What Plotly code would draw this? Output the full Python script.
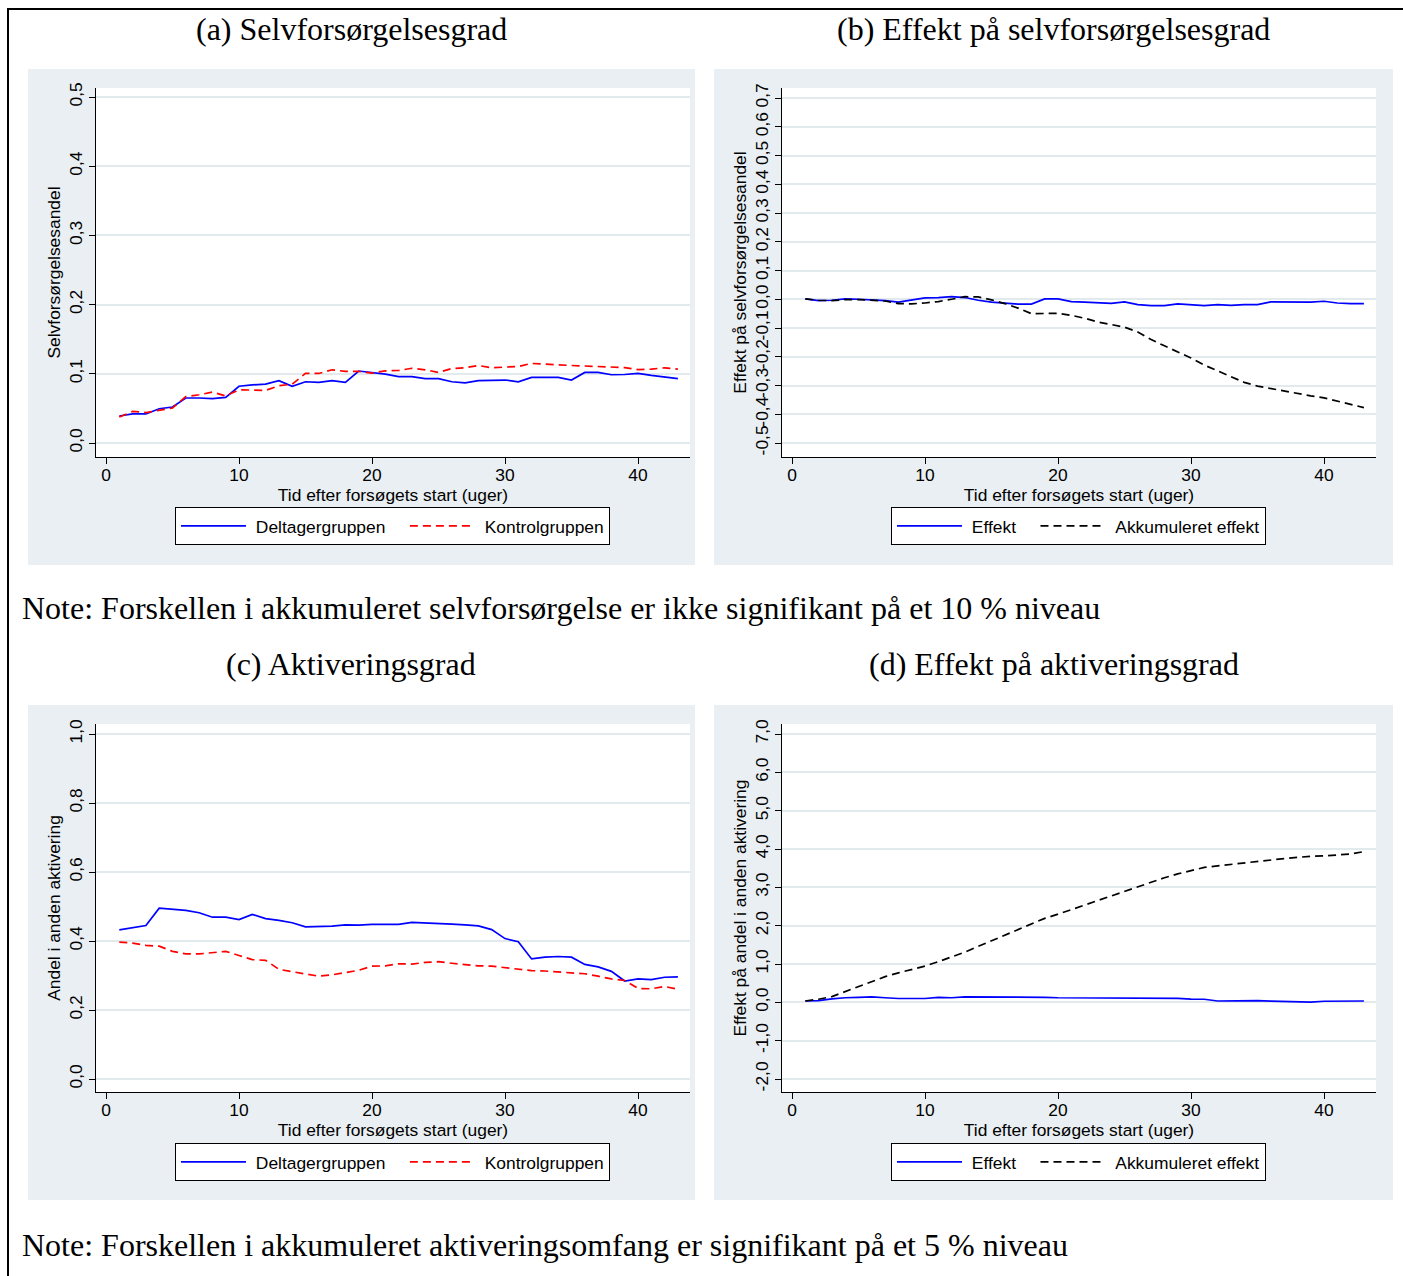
import plotly.graph_objects as go

W, H = 1403, 1276

weeks = list(range(1, 44))

# (a) Selvforsørgelsesgrad
selv_deltager = [0.039, 0.042, 0.042, 0.0495, 0.052, 0.065, 0.065, 0.064, 0.066, 0.082,
                 0.084, 0.085, 0.090, 0.082, 0.0885, 0.0875, 0.090, 0.0875, 0.104, 0.102,
                 0.0995, 0.096, 0.096, 0.093, 0.093, 0.0885, 0.087, 0.090, 0.091, 0.091,
                 0.0885, 0.0947, 0.0947, 0.0947, 0.091, 0.102, 0.102, 0.0986, 0.099, 0.1005,
                 0.0976, 0.095, 0.093]
selv_kontrol = [0.0375, 0.0457, 0.044, 0.047, 0.0505, 0.067, 0.0697, 0.0735, 0.068, 0.077,
                0.077, 0.076, 0.0827, 0.085, 0.1005, 0.1005, 0.1058, 0.1034, 0.1034, 0.101,
                0.1043, 0.1048, 0.108, 0.1058, 0.102, 0.1077, 0.1087, 0.112, 0.1087, 0.110,
                0.1106, 0.115, 0.1144, 0.113, 0.112, 0.111, 0.111, 0.109, 0.109, 0.106,
                0.1067, 0.1087, 0.1067]

# (b) Effekt på selvforsørgelsesgrad
selv_effekt = [0.001, -0.005, -0.0035, 0.001, 0.0, -0.002, -0.005, -0.010, -0.002, 0.005,
               0.006, 0.009, 0.006, -0.0035, -0.010, -0.013, -0.017, -0.017, 0.001, 0.001,
               -0.008, -0.010, -0.013, -0.014, -0.009, -0.0185, -0.022, -0.022, -0.016, -0.0185,
               -0.022, -0.0185, -0.021, -0.0185, -0.0185, -0.009, -0.010, -0.0115, -0.010, -0.007,
               -0.013, -0.015, -0.015]
selv_akk = [0.001, -0.0035, -0.005, -0.001, -0.001, -0.0035, -0.006, -0.015, -0.016, -0.013,
            -0.008, 0.0, 0.009, 0.008, -0.002, -0.015, -0.031, -0.050, -0.050, -0.049,
            -0.056, -0.066, -0.079, -0.088, -0.097, -0.114, -0.140, -0.162, -0.182, -0.204,
            -0.229, -0.249, -0.269, -0.289, -0.302, -0.311, -0.320, -0.329, -0.336, -0.343,
            -0.354, -0.364, -0.377]

# (c) Aktiveringsgrad
akt_deltager = [0.432, 0.438, 0.445, 0.495, 0.491, 0.489, 0.482, 0.469, 0.469, 0.462,
                0.477, 0.465, 0.460, 0.453, 0.441, 0.441, 0.443, 0.447, 0.446, 0.448,
                0.448, 0.448, 0.454, 0.453, 0.451, 0.449, 0.447, 0.444, 0.433, 0.407,
                0.398, 0.348, 0.353, 0.355, 0.353, 0.332, 0.325, 0.312, 0.284, 0.290,
                0.288, 0.295, 0.296]
akt_kontrol = [0.397, 0.394, 0.3875, 0.385, 0.370, 0.3625, 0.3625, 0.367, 0.370, 0.358,
               0.346, 0.344, 0.318, 0.311, 0.304, 0.298, 0.302, 0.309, 0.315, 0.327,
               0.328, 0.334, 0.333, 0.338, 0.340, 0.3355, 0.331, 0.328, 0.327, 0.323,
               0.318, 0.314, 0.313, 0.311, 0.308, 0.305, 0.298, 0.290, 0.2855, 0.2625,
               0.2615, 0.268, 0.2605]

# (d) Effekt på aktiveringsgrad
akt_effekt = [0.035, 0.044, 0.09, 0.12, 0.13, 0.14, 0.12, 0.10, 0.10, 0.10,
              0.13, 0.12, 0.14, 0.14, 0.14, 0.14, 0.14, 0.14, 0.13, 0.12,
              0.12, 0.115, 0.12, 0.115, 0.11, 0.115, 0.115, 0.115, 0.105, 0.085,
              0.08, 0.035, 0.04, 0.045, 0.045, 0.03, 0.027, 0.022, 0.005, 0.028,
              0.027, 0.027, 0.035]
akt_akk = [0.035, 0.08, 0.15, 0.28, 0.41, 0.55, 0.67, 0.77, 0.86, 0.945,
           1.06, 1.18, 1.31, 1.46, 1.61, 1.76, 1.91, 2.06, 2.19, 2.30,
           2.42, 2.54, 2.65, 2.77, 2.89, 3.01, 3.13, 3.25, 3.35, 3.44,
           3.52, 3.56, 3.60, 3.64, 3.68, 3.72, 3.75, 3.78, 3.81, 3.82,
           3.85, 3.87, 3.93]

x_ticks = [0, 10, 20, 30, 40]
x_ticktext = ["0", "10", "20", "30", "40"]
a_ticks = [0.0, 0.1, 0.2, 0.3, 0.4, 0.5]
a_ticktext = ["0,0", "0,1", "0,2", "0,3", "0,4", "0,5"]
b_ticks = [-0.5, -0.4, -0.3, -0.2, -0.1, 0.0, 0.1, 0.2, 0.3, 0.4, 0.5, 0.6, 0.7]
b_ticktext = ["-0,5", "-0,4", "-0,3", "-0,2", "-0,1", "0,0", "0,1", "0,2", "0,3",
              "0,4", "0,5", "0,6", "0,7"]
c_ticks = [0.0, 0.2, 0.4, 0.6, 0.8, 1.0]
c_ticktext = ["0,0", "0,2", "0,4", "0,6", "0,8", "1,0"]
d_ticks = [-2, -1, 0, 1, 2, 3, 4, 5, 6, 7]
d_ticktext = ["-2,0", "-1,0", "0,0", "1,0", "2,0", "3,0", "4,0", "5,0", "6,0", "7,0"]

x_title = "Tid efter forsøgets start (uger)"

BLUE = "#0000ff"
RED = "#ff0000"
BLACK = "#000000"
PANEL = "#e9eff2"
GRID = "#e3eaee"
SANS = "Liberation Sans"
SERIF = "Liberation Serif"
NB = "\u00a0"


def fx(px):
    return px / W


def fy(py):
    return 1 - py / H


fig = go.Figure()


def add_line(y, name, color, dash, n, legend, pad=0):
    sfx = "" if n == 1 else str(n)
    fig.add_trace(go.Scatter(
        x=weeks, y=y, mode="lines", name=NB + name + NB * pad,
        line=dict(color=color, width=1.7, dash=dash),
        xaxis="x" + sfx, yaxis="y" + sfx, legend=legend,
    ))


DASH = "8px,5px"
add_line(selv_deltager, "Deltagergruppen", BLUE, "solid", 1, "legend", 3)
add_line(selv_kontrol, "Kontrolgruppen", RED, DASH, 1, "legend")
add_line(selv_effekt, "Effekt", BLUE, "solid", 2, "legend2", 3)
add_line(selv_akk, "Akkumuleret effekt", BLACK, DASH, 2, "legend2")
add_line(akt_deltager, "Deltagergruppen", BLUE, "solid", 3, "legend3", 3)
add_line(akt_kontrol, "Kontrolgruppen", RED, DASH, 3, "legend3")
add_line(akt_effekt, "Effekt", BLUE, "solid", 4, "legend4", 3)
add_line(akt_akk, "Akkumuleret effekt", BLACK, DASH, 4, "legend4")

tickfont = dict(family=SANS, size=17.4, color="black")


def xax(left, right, yanchor):
    zero = 106 if left < 700 else 792
    return dict(
        domain=[fx(left), fx(right)],
        range=[(left - zero) / 13.3, (right - zero) / 13.3],
        anchor=yanchor, showline=True, linecolor="black", linewidth=1,
        ticks="outside", ticklen=6, tickcolor="black", tickwidth=1,
        showgrid=False, zeroline=False,
        tickvals=x_ticks, ticktext=x_ticktext, tickfont=tickfont,
        ticklabelstandoff=-4,
        title=dict(text=x_title, font=tickfont, standoff=0),
        automargin=False,
    )


def yax(top, bottom, v_top, p_top, v_bot, p_bot, ticks, ticktext, title, xanchor):
    per = (v_top - v_bot) / (p_bot - p_top)
    return dict(
        domain=[fy(bottom), fy(top)],
        range=[v_bot - (bottom - p_bot) * per, v_top + (p_top - top) * per],
        anchor=xanchor, showline=True, linecolor="black", linewidth=1,
        ticks="outside", ticklen=6, tickcolor="black", tickwidth=1,
        showgrid=True, gridcolor=GRID, gridwidth=1.5, zeroline=False,
        tickvals=ticks, ticktext=ticktext, tickfont=tickfont, tickangle=-90,
        title=dict(text=title, font=tickfont, standoff=0),
        automargin=False,
    )


A_TOP, A_BOT = 88, 457
C_TOP, C_BOT = 724, 1092
L_L, L_R = 96, 690
R_L, R_R = 782, 1376

fig.update_layout(
    xaxis=xax(L_L, L_R, "y"),
    xaxis2=xax(R_L, R_R, "y2"),
    xaxis3=xax(L_L, L_R, "y3"),
    xaxis4=xax(R_L, R_R, "y4"),
    yaxis=yax(A_TOP, A_BOT, 0.5, 97, 0.0, 443, a_ticks, a_ticktext, "Selvforsørgelsesandel", "x"),
    yaxis2=yax(A_TOP, A_BOT, 0.7, 98, -0.5, 443, b_ticks, b_ticktext,
               "Effekt på selvforsørgelsesandel", "x2"),
    yaxis3=yax(C_TOP, C_BOT, 1.0, 734, 0.0, 1079, c_ticks, c_ticktext,
               "Andel i anden aktivering", "x3"),
    yaxis4=yax(C_TOP, C_BOT, 7.0, 734, -2.0, 1079, d_ticks, d_ticktext,
               "Effekt på andel i anden aktivering", "x4"),
)


def legend_cfg(cx, top):
    return dict(
        orientation="h", x=fx(cx), xanchor="center", y=fy(top), yanchor="top",
        bgcolor="white", bordercolor="black", borderwidth=1,
        font=dict(family=SANS, size=17.4, color="black"),
        itemwidth=65, traceorder="normal", itemclick=False, itemdoubleclick=False,
    )


fig.update_layout(
    legend=legend_cfg(392.5, 507),
    legend2=legend_cfg(1078.5, 507),
    legend3=legend_cfg(392.5, 1143),
    legend4=legend_cfg(1078.5, 1143),
)

shapes = []
for (x0, y0, x1, y1) in [(28, 69, 695, 565), (714, 69, 1393, 565),
                         (28, 705, 695, 1200), (714, 705, 1393, 1200)]:
    shapes.append(dict(type="rect", xref="paper", yref="paper", layer="below",
                       x0=fx(x0), x1=fx(x1), y0=fy(y1), y1=fy(y0),
                       fillcolor=PANEL, line=dict(width=0)))
for (x0, y0, x1, y1) in [(L_L, A_TOP, L_R, A_BOT), (R_L, A_TOP, R_R, A_BOT),
                         (L_L, C_TOP, L_R, C_BOT), (R_L, C_TOP, R_R, C_BOT)]:
    shapes.append(dict(type="rect", xref="paper", yref="paper", layer="below",
                       x0=fx(x0), x1=fx(x1), y0=fy(y1), y1=fy(y0),
                       fillcolor="white", line=dict(width=0)))
# outer frame (left and top edges)
shapes.append(dict(type="line", xref="paper", yref="paper", x0=fx(8), x1=fx(8),
                   y0=0, y1=fy(8), line=dict(color="black", width=2)))
shapes.append(dict(type="line", xref="paper", yref="paper", x0=fx(7), x1=1,
                   y0=fy(9), y1=fy(9), line=dict(color="black", width=2)))

annotations = []


def text(s, x, y, size, xanchor="center"):
    annotations.append(dict(text=s, x=fx(x), y=fy(y), xref="paper", yref="paper",
                            xanchor=xanchor, yanchor="middle", showarrow=False,
                            font=dict(family=SERIF, size=size, color="black")))


text("(a) Selvforsørgelsesgrad", 351, 29, 32)
text("(b) Effekt på selvforsørgelsesgrad", 1053, 29, 32)
text("(c) Aktiveringsgrad", 351, 664, 32)
text("(d) Effekt på aktiveringsgrad", 1054, 664, 32)
text("Note: Forskellen i akkumuleret selvforsørgelse er ikke signifikant på et 10 % niveau",
     20, 608, 32, "left")
text("Note: Forskellen i akkumuleret aktiveringsomfang er signifikant på et 5 % niveau",
     20, 1245, 32, "left")

fig.update_layout(
    width=W, height=H,
    margin=dict(l=0, r=0, t=0, b=0),
    paper_bgcolor="white", plot_bgcolor="rgba(0,0,0,0)",
    shapes=shapes, annotations=annotations,
    showlegend=True,
)

fig.write_html(
    "out.html",
    config={"displayModeBar": False},
    post_script="document.body.style.margin='0px';document.body.style.overflow='hidden';",
)
